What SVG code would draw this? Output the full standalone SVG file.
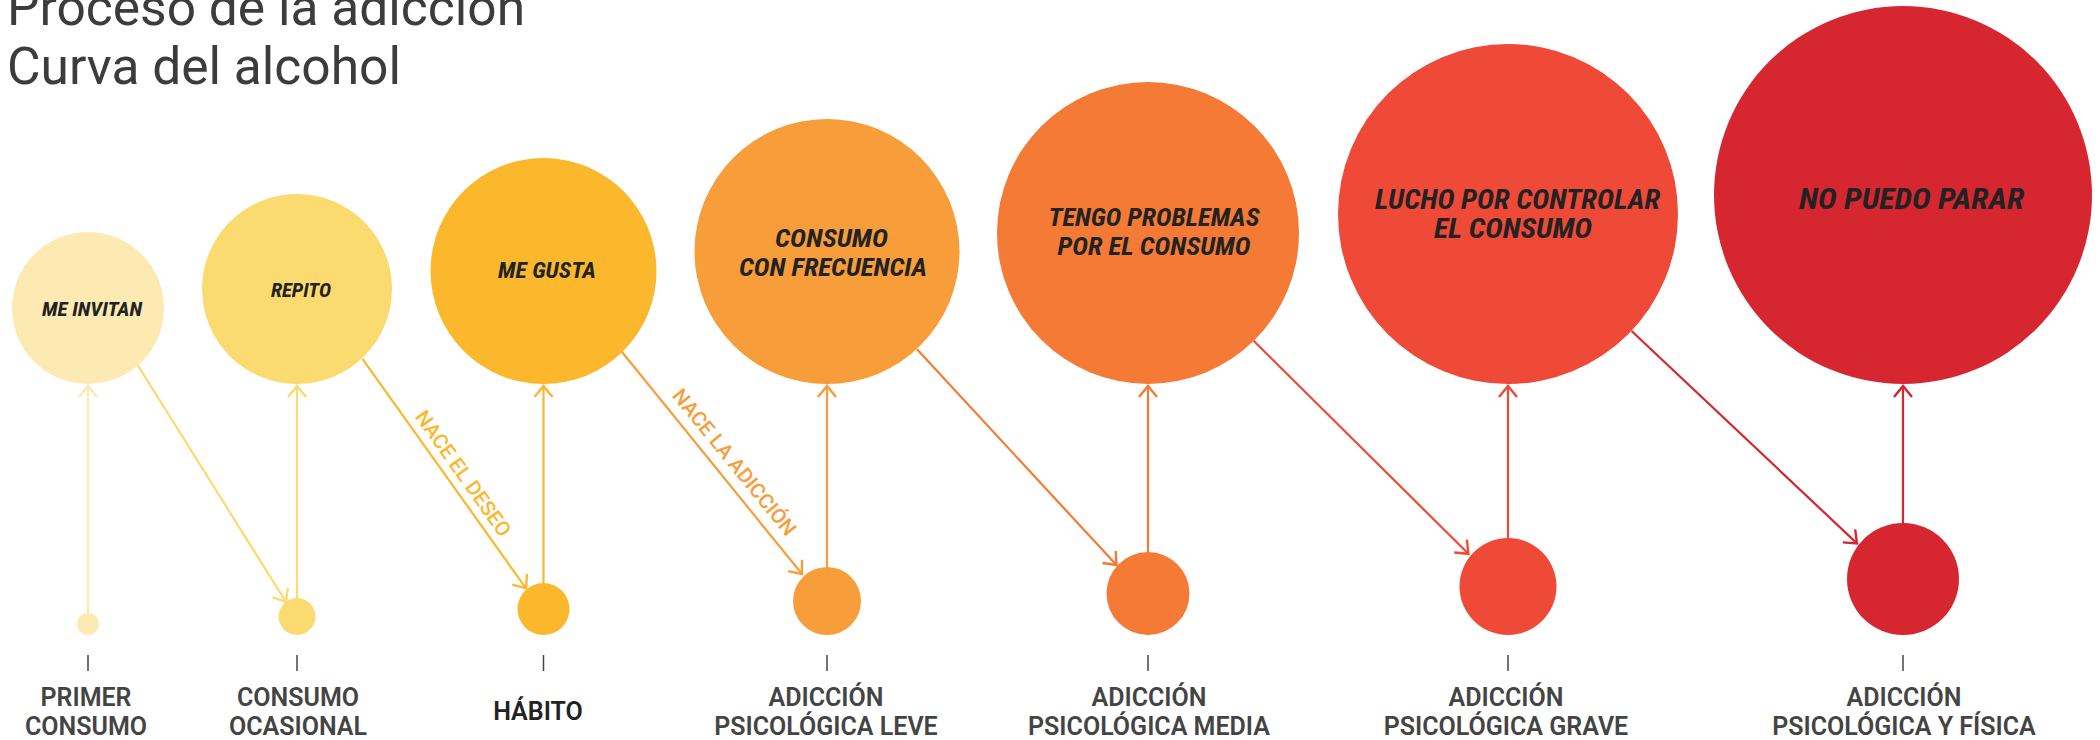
<svg xmlns="http://www.w3.org/2000/svg" width="2100" height="740" viewBox="0 0 2100 740">
<style>
.title{font-family:Roboto,"Liberation Sans",sans-serif;font-size:51.5px;fill:#3c3c3c}
.ct{font-family:"Roboto Condensed","Liberation Sans Narrow",Roboto,"Liberation Sans",sans-serif;font-weight:700;font-style:italic;fill:#222;text-anchor:middle}
.lb{font-family:Roboto,"Liberation Sans",sans-serif;font-weight:600;font-size:25px;fill:#444;text-anchor:middle}
.dl{font-family:Roboto,"Liberation Sans",sans-serif;font-weight:500;font-size:20.5px;text-anchor:middle}
.tick{stroke:#444;stroke-width:1.5}
.cn{fill:none;stroke-width:2.2}
.c1{fill:#fdeab3}.c2{fill:#fbdb70}.c3{fill:#fbb82d}.c4{fill:#f79d39}.c5{fill:#f47a35}.c6{fill:#ef4938}.c7{fill:#d62630}
.s1{stroke:#fdeab3}.s2{stroke:#fbdb70}.s3{stroke:#fbb82d}.s4{stroke:#f79d39}.s5{stroke:#f47a35}.s6{stroke:#ef4938}.s7{stroke:#d62630}
</style>
<defs>
<marker id="a1" viewBox="-14 -12 16 24" markerWidth="16" markerHeight="24" refX="0" refY="0" orient="auto" markerUnits="userSpaceOnUse"><path d="M-11,-9 L0,0 L-11,9" fill="none" stroke="#fdeab3" stroke-width="2.4"/></marker>
<marker id="a2" viewBox="-14 -12 16 24" markerWidth="16" markerHeight="24" refX="0" refY="0" orient="auto" markerUnits="userSpaceOnUse"><path d="M-11,-9 L0,0 L-11,9" fill="none" stroke="#fbdb70" stroke-width="2.4"/></marker>
<marker id="a3" viewBox="-14 -12 16 24" markerWidth="16" markerHeight="24" refX="0" refY="0" orient="auto" markerUnits="userSpaceOnUse"><path d="M-11,-9 L0,0 L-11,9" fill="none" stroke="#fbb82d" stroke-width="2.4"/></marker>
<marker id="a4" viewBox="-14 -12 16 24" markerWidth="16" markerHeight="24" refX="0" refY="0" orient="auto" markerUnits="userSpaceOnUse"><path d="M-11,-9 L0,0 L-11,9" fill="none" stroke="#f79d39" stroke-width="2.4"/></marker>
<marker id="a5" viewBox="-14 -12 16 24" markerWidth="16" markerHeight="24" refX="0" refY="0" orient="auto" markerUnits="userSpaceOnUse"><path d="M-11,-9 L0,0 L-11,9" fill="none" stroke="#f47a35" stroke-width="2.4"/></marker>
<marker id="a6" viewBox="-14 -12 16 24" markerWidth="16" markerHeight="24" refX="0" refY="0" orient="auto" markerUnits="userSpaceOnUse"><path d="M-11,-9 L0,0 L-11,9" fill="none" stroke="#ef4938" stroke-width="2.4"/></marker>
<marker id="a7" viewBox="-14 -12 16 24" markerWidth="16" markerHeight="24" refX="0" refY="0" orient="auto" markerUnits="userSpaceOnUse"><path d="M-11,-9 L0,0 L-11,9" fill="none" stroke="#d62630" stroke-width="2.4"/></marker>
</defs>
<rect width="2100" height="740" fill="#fff"/>
<g id="title">
<text class="title" x="7" y="25">Proceso de la adicción</text>
<text class="title" x="7" y="84">Curva del alcohol</text>
</g>
<g id="connectors">
<line class="cn s1" x1="88" y1="613" x2="88" y2="386" marker-end="url(#a1)"/>
<line class="cn s2" x1="297" y1="598" x2="297" y2="386" marker-end="url(#a2)"/>
<line class="cn s3" x1="543.5" y1="583" x2="543.5" y2="386" marker-end="url(#a3)"/>
<line class="cn s4" x1="827" y1="567" x2="827" y2="386" marker-end="url(#a4)"/>
<line class="cn s5" x1="1148" y1="552" x2="1148" y2="386" marker-end="url(#a5)"/>
<line class="cn s6" x1="1508" y1="538" x2="1508" y2="386" marker-end="url(#a6)"/>
<line class="cn s7" x1="1903" y1="523" x2="1903" y2="386" marker-end="url(#a7)"/>
<line class="cn s2" x1="137" y1="364" x2="286" y2="602" marker-end="url(#a2)"/>
<line class="cn s3" x1="362.5" y1="358.8" x2="526" y2="588.3" marker-end="url(#a3)"/>
<line class="cn s4" x1="622" y1="352" x2="802" y2="574" marker-end="url(#a4)"/>
<line class="cn s5" x1="917" y1="349.3" x2="1116.5" y2="565" marker-end="url(#a5)"/>
<line class="cn s6" x1="1253.6" y1="340.7" x2="1468.4" y2="553.8" marker-end="url(#a6)"/>
<line class="cn s7" x1="1631.6" y1="331" x2="1857" y2="543.4" marker-end="url(#a7)"/>
<text class="dl" fill="#fbb82d" transform="translate(450.6,482.5) rotate(54.6)" x="0" y="-8.5">NACE EL DESEO</text>
<text class="dl" fill="#f79d39" transform="translate(720.4,473.6) rotate(50.8)" x="0" y="-11">NACE LA ADICCIÓN</text>
</g>
<g id="n1"><circle class="c1" cx="88" cy="308" r="76"/><text class="ct" x="92" y="316" font-size="20" textLength="100" lengthAdjust="spacingAndGlyphs">ME INVITAN</text></g>
<g id="n2"><circle class="c2" cx="297" cy="289" r="95"/><text class="ct" x="301" y="297" font-size="20" textLength="60" lengthAdjust="spacingAndGlyphs">REPITO</text></g>
<g id="n3"><circle class="c3" cx="543.5" cy="271" r="113"/><text class="ct" x="547" y="278" font-size="22" textLength="98" lengthAdjust="spacingAndGlyphs">ME GUSTA</text></g>
<g id="n4"><circle class="c4" cx="827" cy="251.5" r="132.5"/><text class="ct" x="831.5" y="247" font-size="26" textLength="113" lengthAdjust="spacingAndGlyphs">CONSUMO</text><text class="ct" x="833" y="276" font-size="26" textLength="188" lengthAdjust="spacingAndGlyphs">CON FRECUENCIA</text></g>
<g id="n5"><circle class="c5" cx="1148" cy="233" r="151"/><text class="ct" x="1154" y="226" font-size="26.5" textLength="211" lengthAdjust="spacingAndGlyphs">TENGO PROBLEMAS</text><text class="ct" x="1154" y="255" font-size="26.5" textLength="193" lengthAdjust="spacingAndGlyphs">POR EL CONSUMO</text></g>
<g id="n6"><circle class="c6" cx="1508" cy="214" r="170"/><text class="ct" x="1517.5" y="209" font-size="27" textLength="285" lengthAdjust="spacingAndGlyphs">LUCHO POR CONTROLAR</text><text class="ct" x="1513" y="238" font-size="27" textLength="158" lengthAdjust="spacingAndGlyphs">EL CONSUMO</text></g>
<g id="n7"><circle class="c7" cx="1903" cy="195" r="189"/><text class="ct" x="1911.6" y="208.5" font-size="29" textLength="225" lengthAdjust="spacingAndGlyphs">NO PUEDO PARAR</text></g>
<g id="m1"><circle class="c1" cx="88" cy="624" r="11"/></g>
<g id="m2"><circle class="c2" cx="297" cy="616.5" r="18.5"/></g>
<g id="m3"><circle class="c3" cx="543.5" cy="609" r="26"/></g>
<g id="m4"><circle class="c4" cx="827" cy="601" r="34"/></g>
<g id="m5"><circle class="c5" cx="1148" cy="593.5" r="41.5"/></g>
<g id="m6"><circle class="c6" cx="1508" cy="586.5" r="48.5"/></g>
<g id="m7"><circle class="c7" cx="1903" cy="579" r="56"/></g>
<g id="labels">
<line class="tick" x1="88" y1="655" x2="88" y2="671"/>
<line class="tick" x1="297" y1="655" x2="297" y2="671"/>
<line class="tick" x1="543.5" y1="655" x2="543.5" y2="671"/>
<line class="tick" x1="827" y1="655" x2="827" y2="671"/>
<line class="tick" x1="1148" y1="655" x2="1148" y2="671"/>
<line class="tick" x1="1508" y1="655" x2="1508" y2="671"/>
<line class="tick" x1="1903" y1="655" x2="1903" y2="671"/>
<text class="lb" x="86" y="706">PRIMER</text><text class="lb" x="86" y="735">CONSUMO</text>
<text class="lb" x="298" y="706">CONSUMO</text><text class="lb" x="298" y="735">OCASIONAL</text>
<text class="lb" x="538" y="720" style="fill:#222">HÁBITO</text>
<text class="lb" x="826" y="706">ADICCIÓN</text><text class="lb" x="826" y="735">PSICOLÓGICA LEVE</text>
<text class="lb" x="1149" y="706">ADICCIÓN</text><text class="lb" x="1149" y="735">PSICOLÓGICA MEDIA</text>
<text class="lb" x="1506" y="706">ADICCIÓN</text><text class="lb" x="1506" y="735">PSICOLÓGICA GRAVE</text>
<text class="lb" x="1904" y="706">ADICCIÓN</text><text class="lb" x="1904" y="735">PSICOLÓGICA Y FÍSICA</text>
</g>
</svg>
